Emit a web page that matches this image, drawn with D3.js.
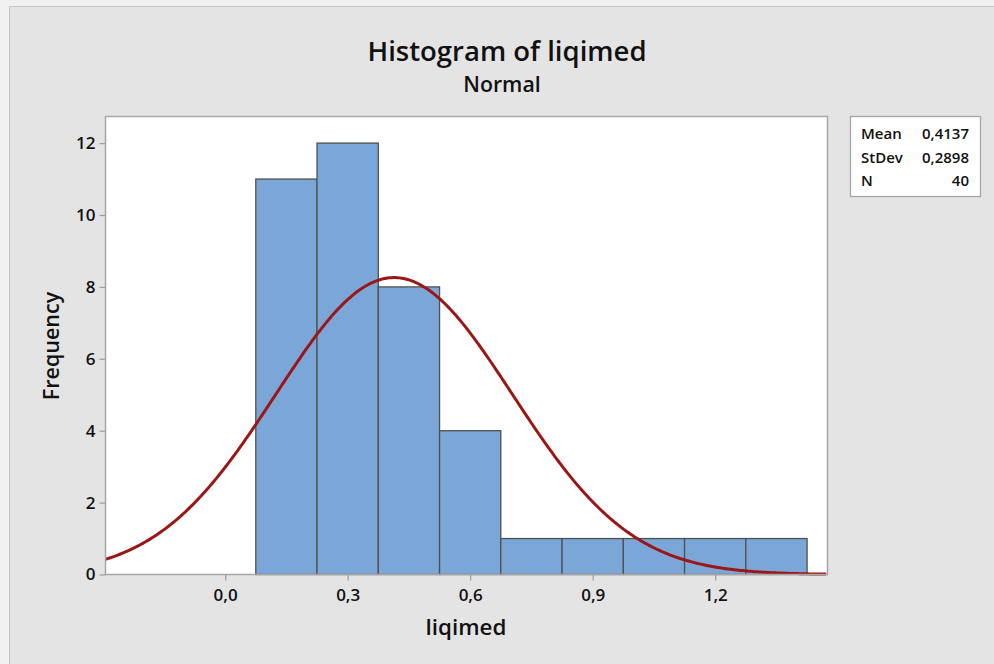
<!DOCTYPE html>
<html>
<head>
<meta charset="utf-8">
<script src="https://cdn.jsdelivr.net/npm/d3@7"></script>
<style>
	body { margin: 0; background: #f0f0f0; }
	text { font-family: "Open Sans", "Noto Sans", sans-serif; }
</style>
</head>
<body>
<script>
// histogram bins (liqimed) and counts
var binEdges = [0.075, 0.225, 0.375, 0.525, 0.675, 0.825, 0.975, 1.125, 1.275, 1.425];
var binCounts = [11, 12, 8, 4, 1, 1, 1, 1, 1];
var xTicks = [0.0, 0.3, 0.6, 0.9, 1.2];
var yTicks = [0, 2, 4, 6, 8, 10, 12];
var statLabels = ["Mean", "StDev", "N"];
var statValues = ["0,4137", "0,2898", "40"];
var fitMean = 0.4137, fitSd = 0.2898, fitN = 40;

var width = 994, height = 664;
var plot = {left: 105.5, right: 827.5, top: 116.5, bottom: 574.5};

var svg = d3.select("body").append("svg")
	.attr("width", width)
	.attr("height", height);

svg.append("rect")
	.attr("x", 9.5)
	.attr("y", 6.5)
	.attr("width", 1000)
	.attr("height", 700)
	.attr("fill", "#e4e4e4")
	.attr("stroke", "#c6c6c6");

var x = d3.scaleLinear().domain([-0.293, 1.475]).range([plot.left, plot.right]);
var y = d3.scaleLinear().domain([0, 12.74]).range([plot.bottom, plot.top]);

svg.append("rect")
	.attr("x", plot.left)
	.attr("y", plot.top)
	.attr("width", plot.right - plot.left)
	.attr("height", plot.bottom - plot.top)
	.attr("fill", "#fff");

var bins = binCounts.map(function(c, i) { return {x0: binEdges[i], x1: binEdges[i + 1], n: c}; });

svg.selectAll("rect.bar").data(bins).enter().append("rect")
	.classed("bar", 1)
	.attr("x", function(d) { return x(d.x0); })
	.attr("y", function(d) { return y(d.n); })
	.attr("width", function(d) { return x(d.x1) - x(d.x0); })
	.attr("height", function(d) { return y(0) - y(d.n); })
	.attr("fill", "#7ba7d8")
	.attr("stroke", "#505050")
	.attr("stroke-width", 1.3);

// fitted normal curve, scaled to counts (N * bin width)
var binW = binEdges[1] - binEdges[0];
var curveX = d3.range(x.domain()[0], x.domain()[1] + 0.001, 0.005);
var line = d3.line()
	.x(function(d) { return x(d); })
	.y(function(d)
	{
		var z = (d - fitMean) / fitSd;
		return y(fitN * binW * Math.exp(-z * z / 2) / (fitSd * Math.sqrt(2 * Math.PI)));
	});

svg.append("path")
	.datum(curveX)
	.attr("d", line)
	.attr("fill", "none")
	.attr("stroke", "#9b1616")
	.attr("stroke-width", 3);

// plot frame
svg.append("rect")
	.attr("x", plot.left)
	.attr("y", plot.top)
	.attr("width", plot.right - plot.left)
	.attr("height", plot.bottom - plot.top)
	.attr("fill", "none")
	.attr("stroke", "#a6a6a6")
	.attr("stroke-width", 1.5);

var fmt = function(v) { return d3.format(".1f")(v).replace(".", ","); };

var xAxis = svg.append("g")
	.attr("transform", "translate(0," + plot.bottom + ")")
	.call(d3.axisBottom(x).tickValues(xTicks).tickFormat(fmt).tickSize(6).tickPadding(8));

var yAxis = svg.append("g")
	.attr("transform", "translate(" + plot.left + ",0)")
	.call(d3.axisLeft(y).tickValues(yTicks).tickSize(6).tickPadding(4));

[xAxis, yAxis].forEach(function(ax)
{
	ax.select(".domain").remove();
	ax.selectAll(".tick line").attr("stroke", "#a0a0a0").attr("stroke-width", 1.3);
	ax.selectAll(".tick text")
		.attr("fill", "#111")
		.attr("font-size", "17px")
		.attr("font-weight", 600)
		.style("font-family", "'Open Sans', sans-serif");
});

svg.append("text")
	.text("Histogram of liqimed")
	.attr("x", 507)
	.attr("y", 61)
	.attr("text-anchor", "middle")
	.attr("font-size", "27.5px")
	.attr("font-weight", 600)
	.attr("fill", "#111");

svg.append("text")
	.text("Normal")
	.attr("x", 502)
	.attr("y", 92)
	.attr("text-anchor", "middle")
	.attr("font-size", "21.3px")
	.attr("font-weight", 600)
	.attr("fill", "#111");

svg.append("text")
	.text("liqimed")
	.attr("x", 466)
	.attr("y", 635)
	.attr("text-anchor", "middle")
	.attr("font-size", "22.4px")
	.attr("font-weight", 600)
	.attr("fill", "#111");

svg.append("text")
	.text("Frequency")
	.attr("transform", "translate(59,346) rotate(-90)")
	.attr("text-anchor", "middle")
	.attr("font-size", "21.5px")
	.attr("font-weight", 600)
	.attr("fill", "#111");

// stats box
svg.append("rect")
	.attr("x", 850.5)
	.attr("y", 116.5)
	.attr("width", 130)
	.attr("height", 80)
	.attr("fill", "#fff")
	.attr("stroke", "#a6a6a6")
	.attr("stroke-width", 1.3);

var rows = svg.selectAll("g.stat").data(statLabels).enter().append("g")
	.classed("stat", 1)
	.attr("transform", function(d, i) { return "translate(0," + (139 + i * 23.5) + ")"; });

rows.append("text")
	.text(function(d) { return d; })
	.attr("x", 861)
	.attr("font-size", "15px")
	.attr("font-weight", 600)
	.attr("fill", "#111");

rows.append("text")
	.text(function(d, i) { return statValues[i]; })
	.attr("x", 969)
	.attr("text-anchor", "end")
	.attr("font-size", "15px")
	.attr("font-weight", 600)
	.attr("fill", "#111");
</script>
</body>
</html>
